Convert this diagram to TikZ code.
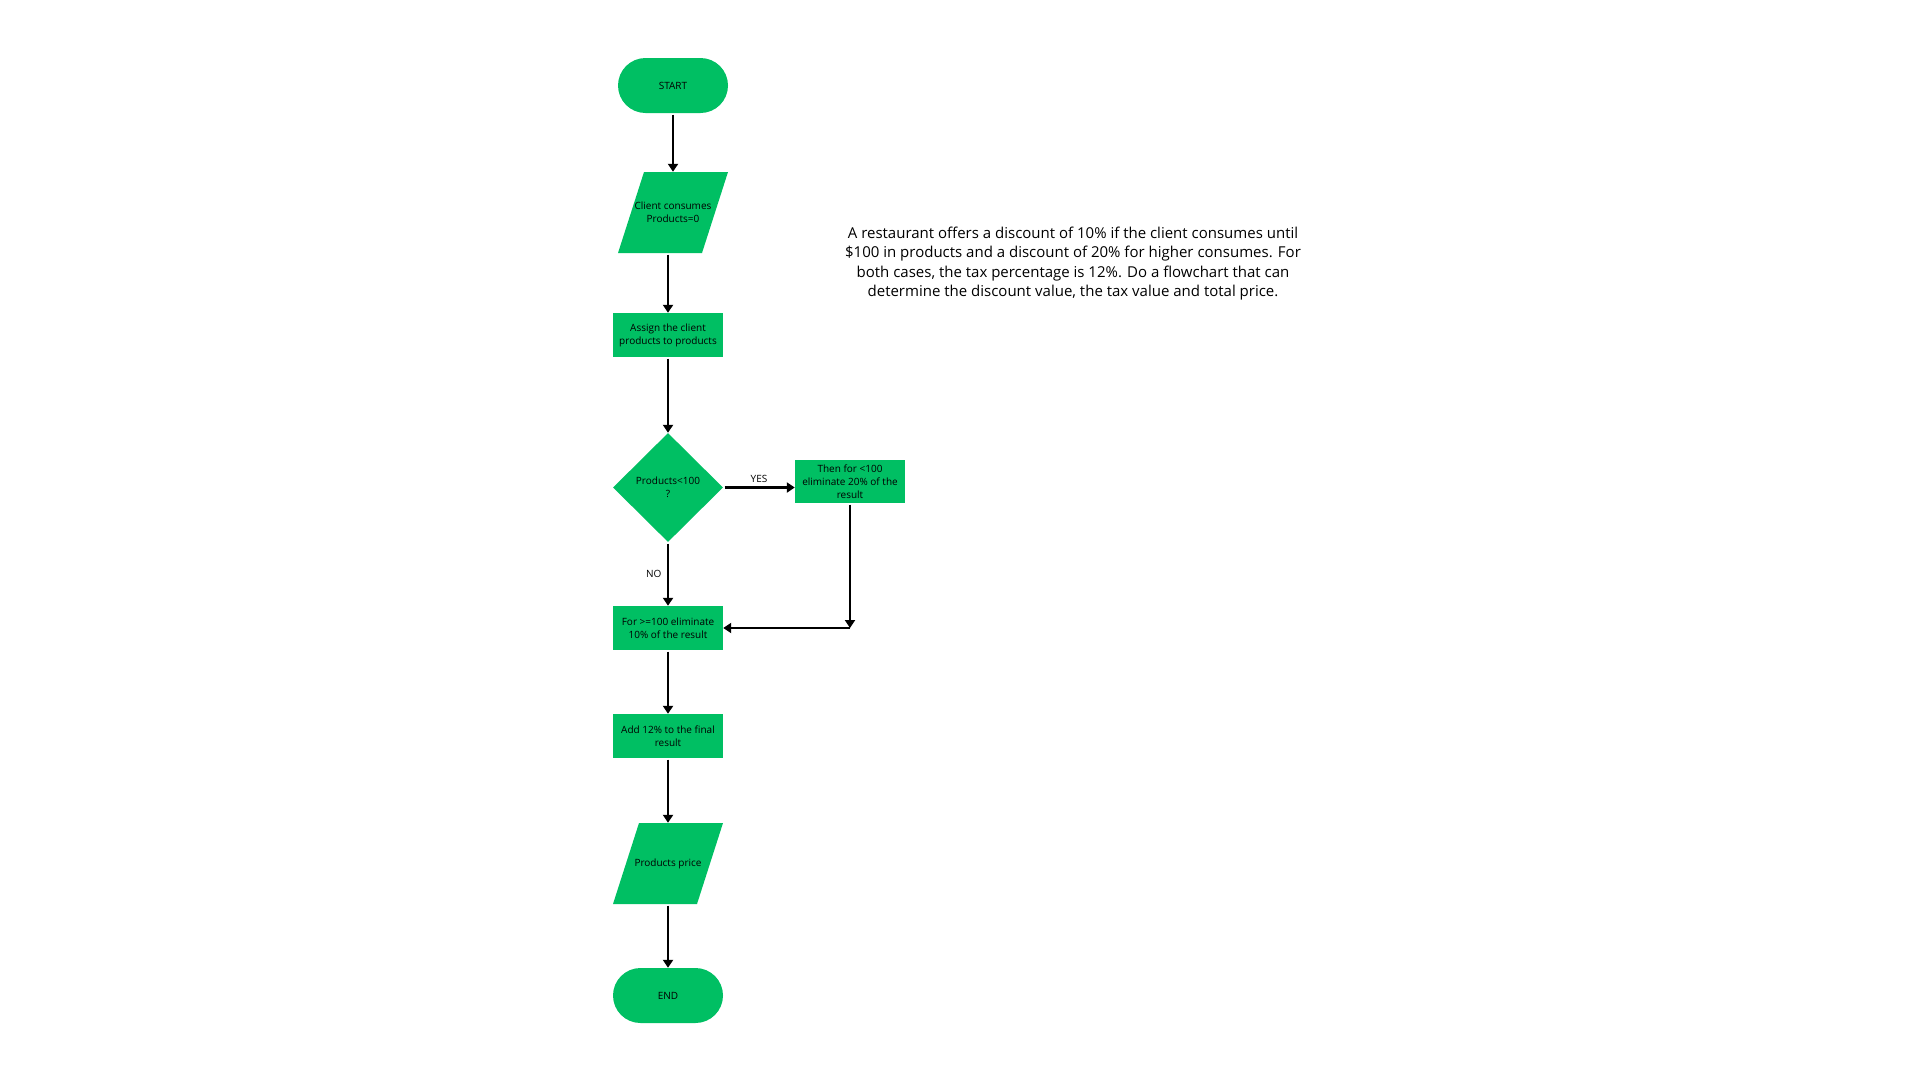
\documentclass[tikz,border=0pt]{standalone}
\usepackage{fontspec}
\setmainfont{Open Sans}
\usetikzlibrary{shapes.geometric,arrows.meta,calc,backgrounds}
\definecolor{fillg}{RGB}{0,191,99}
\begin{document}
\begin{tikzpicture}[x=1pt,y=-1pt,
  base/.style={fill=fillg,draw=none,text=black,font=\fontsize{10}{13}\selectfont,align=center,inner sep=1pt},
  pill/.style={base,rectangle,rounded corners=27.5pt,minimum width=110pt,minimum height=55pt},
  procbox/.style={base,rectangle,minimum width=110pt,minimum height=44pt},
  iobox/.style={base,fill=none,rectangle,minimum width=110pt,minimum height=81pt},
  decbox/.style={base,diamond,minimum width=110pt,minimum height=109pt},
  arr/.style={line width=2.6pt,-{Triangle[width=10pt,length=8pt]},shorten <=1.5pt},
  lbl/.style={font=\fontsize{10}{12}\selectfont,text=black}
]
\useasboundingbox (0,0) rectangle (1920,1080);
\node[pill] (start) at (673,85.5) {START};
\node[iobox] (p1) at (673,212.5) {Client consumes\\Products=0};
\node[procbox] (assign) at (668,335) {Assign the client\\products to products};
\node[decbox] (dec) at (668,487.5) {Products<100\\?};
\node[procbox,minimum height=43pt] (then) at (850,481.5) {Then for <100\\eliminate 20\% of the\\result};
\node[procbox] (for) at (668,628) {For >=100 eliminate\\10\% of the result};
\node[procbox] (add) at (668,736) {Add 12\% to the final\\result};
\node[iobox] (p2) at (668,863.5) {Products price};
\node[pill] (end) at (668,995.5) {END};
\coordinate (j) at (850,628);
\begin{scope}[on background layer]
\fill[fillg] ($(p1)+(-29,-40.5)$) -- ($(p1)+(55,-40.5)$) -- ($(p1)+(29,40.5)$) -- ($(p1)+(-55,40.5)$) -- cycle;
\fill[fillg] ($(p2)+(-29,-40.5)$) -- ($(p2)+(55,-40.5)$) -- ($(p2)+(29,40.5)$) -- ($(p2)+(-55,40.5)$) -- cycle;
\end{scope}
\node[text=black,align=center,font=\fontsize{15}{19.5}\selectfont] (desc) at (1073,263.5) {A restaurant offers a discount of 10\% if the client consumes until\\\$100 in products and a discount of 20\% for higher consumes. For\\both cases, the tax percentage is 12\%. Do a flowchart that can\\determine the discount value, the tax value and total price.};
\draw[arr] (start.south) -- (p1.north);
\draw[arr] (p1.south -| assign) -- (assign.north);
\draw[arr] (assign.south) -- (dec.north);
\draw[arr] (dec.east) -- node[lbl,above] {YES} (dec.east -| then.west);
\draw[arr] (dec.south) -- node[lbl,left,xshift=-2pt] {NO} (for.north);
\draw[arr] (then.south) -- (j);
\draw[arr,shorten <=0pt] (j) -- (for.east);
\draw[arr] (for.south) -- (add.north);
\draw[arr] (add.south) -- (p2.north);
\draw[arr] (p2.south) -- (end.north);
\end{tikzpicture}
\end{document}
